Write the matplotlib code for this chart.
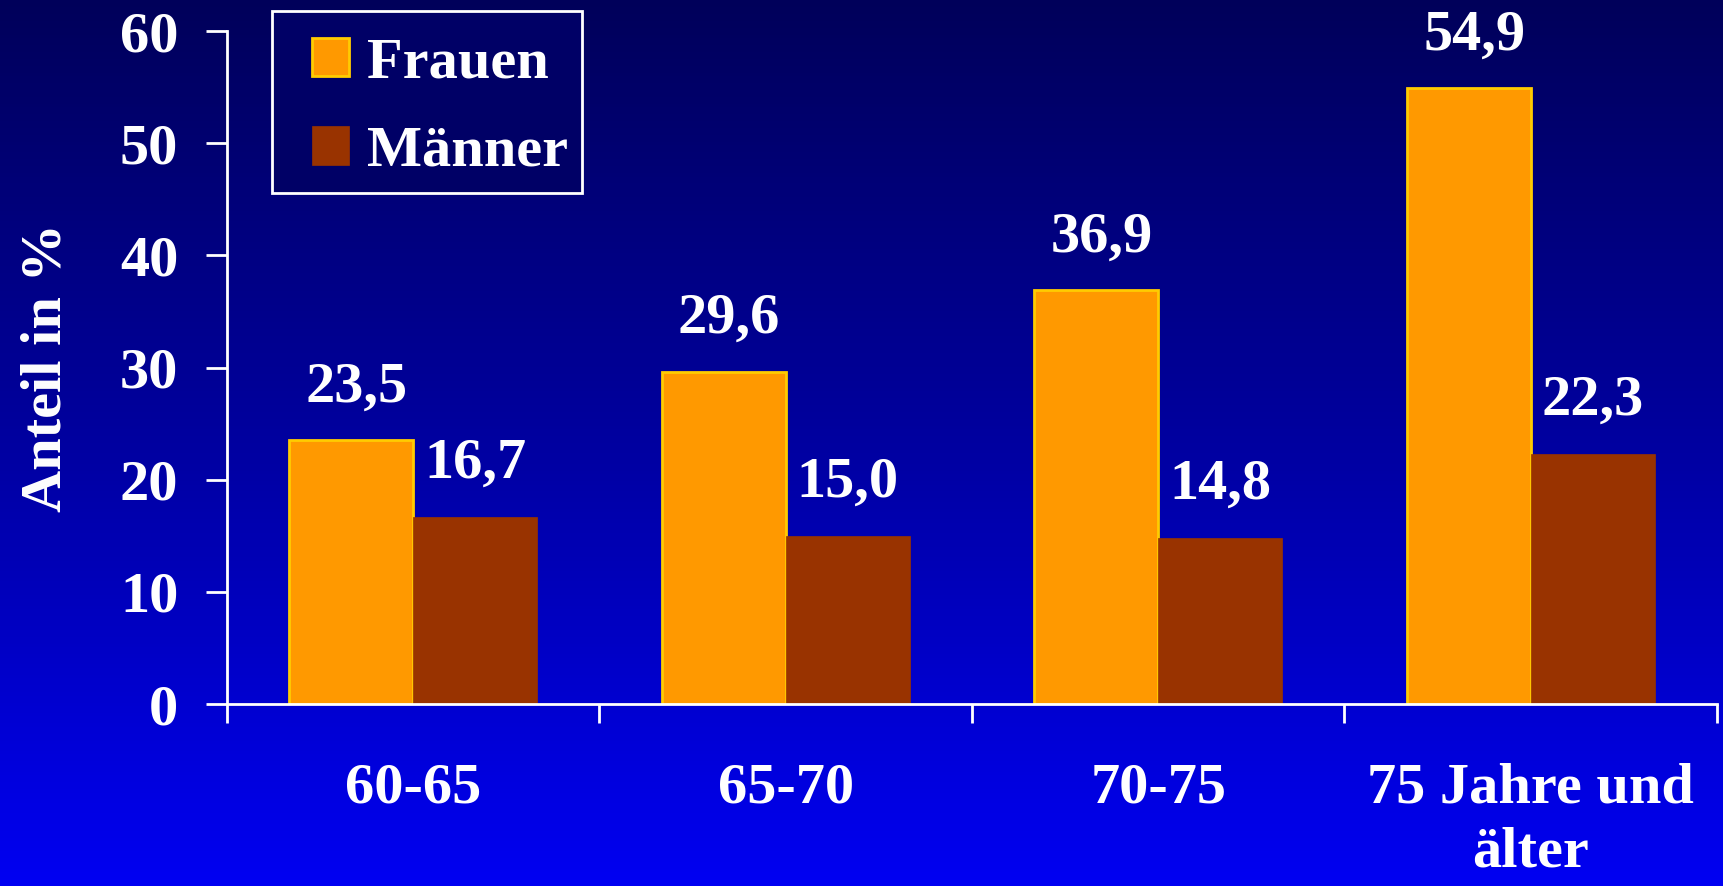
import numpy as np
import matplotlib
matplotlib.use("Agg")
import matplotlib.pyplot as plt
from matplotlib.colors import LinearSegmentedColormap
from matplotlib.patches import Rectangle

categories = ["60-65", "65-70", "70-75", "75 Jahre und\nälter"]
frauen = [23.5, 29.6, 36.9, 54.9]
maenner = [16.7, 15.0, 14.8, 22.3]
series_names = ["Frauen", "Männer"]
y_ticks = [0, 10, 20, 30, 40, 50, 60]

plt.rcParams['font.family'] = ['Liberation Serif', 'DejaVu Serif']
plt.rcParams['font.weight'] = 'bold'

fig = plt.figure(figsize=(17.23, 8.86), dpi=100)

# gradient background, dark navy at the top to bright blue at the bottom
bg = fig.add_axes([0, 0, 1, 1], zorder=-10)
grad = np.linspace(0, 1, 256).reshape(-1, 1)
cmap = LinearSegmentedColormap.from_list("bg", ["#00005a", "#0000a0", "#0000f2"])
bg.imshow(grad, aspect='auto', cmap=cmap, extent=[0, 1, 0, 1], origin='upper')
bg.axis('off')

ax = fig.add_axes([0.1317, 0.2054, 0.8648, 0.7596])
ax.set_facecolor('none')

x = np.arange(len(categories)) + 0.5
w = 1 / 3
b1 = ax.bar(x - w / 2, frauen, w, color='#ff9900', edgecolor='#ffcc00', linewidth=2,
            label=series_names[0])
b2 = ax.bar(x + w / 2, maenner, w, color='#993300', edgecolor='#993300', linewidth=0.5,
            label=series_names[1])

fs = 42
for bars, vals, dx in [(b1, frauen, 4), (b2, maenner, 0)]:
    for r, v in zip(bars, vals):
        ax.annotate(f"{v:.1f}".replace('.', ','), (r.get_x() + r.get_width() / 2, v),
                    xytext=(dx, 28), textcoords='offset points', ha='center',
                    va='baseline', color='white', fontsize=fs, fontweight='bold')

ax.set_xlim(0, len(categories))
ax.set_ylim(0, 60)
ax.set_yticks(y_ticks)
ax.set_xticks(np.arange(len(categories) + 1))
ax.set_xticklabels([])
ax.set_xticks(x, minor=True)
ax.set_xticklabels(categories, minor=True, fontsize=fs, color='white',
                   fontweight='bold', linespacing=1.3)
ax.tick_params(axis='x', which='minor', length=0, pad=42)
ax.tick_params(axis='x', which='major', direction='out', length=14, width=2,
               color='white')
ax.tick_params(axis='y', direction='out', length=15, width=2, color='white',
               labelcolor='white', labelsize=fs, pad=20)
for lab in ax.get_yticklabels():
    lab.set_fontweight('bold')

for s in ['top', 'right']:
    ax.spines[s].set_visible(False)
for s in ['left', 'bottom']:
    ax.spines[s].set_color('white')
    ax.spines[s].set_linewidth(2)
    ax.spines[s].set_zorder(5)

ax.set_ylabel("Anteil in %", color='white', fontsize=fs, fontweight='bold',
              labelpad=34)

# legend box drawn separately so the padding matches
ax.add_patch(Rectangle((0.0302, 0.759), 0.2081, 0.2707, transform=ax.transAxes,
                       facecolor='#000066', edgecolor='white', linewidth=2,
                       clip_on=False, zorder=6))
leg = ax.legend(loc='center left', bbox_to_anchor=(0.057, 0.886), borderaxespad=0,
                borderpad=0, fontsize=fs, frameon=False, handlelength=0.64,
                handleheight=0.64, handletextpad=0.3, labelspacing=0.62)
leg.set_zorder(7)
for t in leg.get_texts():
    t.set_color('white')
    t.set_fontweight('bold')

fig.savefig("out.png", dpi=100)
